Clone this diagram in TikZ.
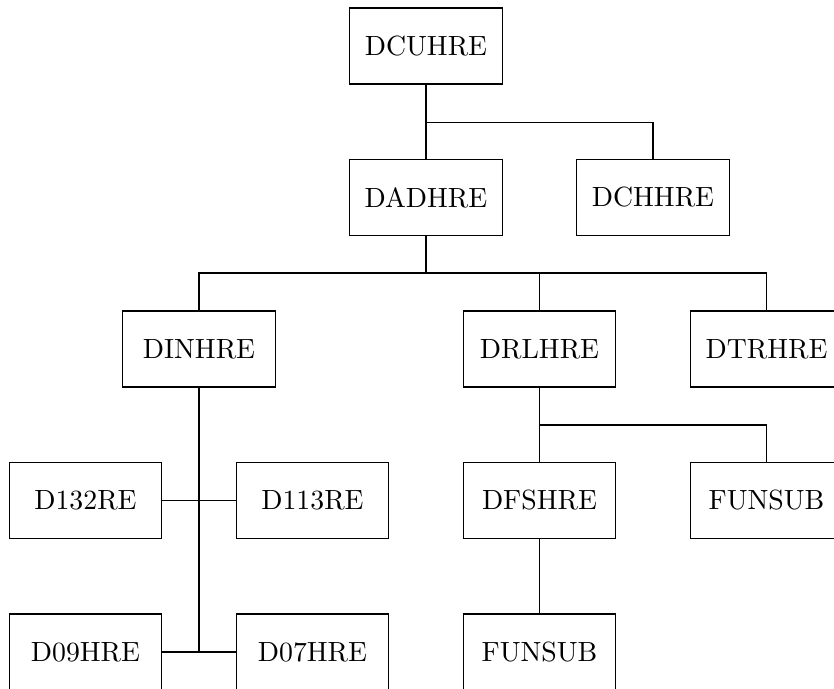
\documentclass[tikz,border=0pt]{standalone}
\begin{document}
\begin{tikzpicture}[x=0.36pt,y=-0.36pt,
  routine/.style={draw, minimum width=152.5*0.36pt, minimum height=76*0.36pt, inner sep=0pt, font=\normalsize}]
\useasboundingbox (0,0) rectangle (834,689);
% routine boxes, one row per call level
\node[routine] (cu)   at (426,46)    {DCUHRE};
\node[routine] (ad)   at (426,197.5) {DADHRE};
\node[routine] (ch)   at (653,197.5) {DCHHRE};
\node[routine] (in)   at (199,349)   {DINHRE};
\node[routine] (rl)   at (539.5,349) {DRLHRE};
\node[routine] (tr)   at (766.5,349) {DTRHRE};
\node[routine] (d132) at (85.5,500.5)  {D132RE};
\node[routine] (d113) at (312.5,500.5) {D113RE};
\node[routine] (fs)   at (539.5,500.5) {DFSHRE};
\node[routine] (fua)  at (766.5,500.5) {FUNSUB};
\node[routine] (d09)  at (85.5,652)  {D09HRE};
\node[routine] (d07)  at (312.5,652) {D07HRE};
\node[routine] (fub)  at (539.5,652) {FUNSUB};
% branching points
\coordinate (j1) at (426,122.5);
\coordinate (j2) at (426,273);
\coordinate (j3) at (539.5,425);
% call tree connectors
\draw (cu.south) -- (ad.north);
\draw (j1) -| (ch.north);
\draw (ad.south) -- (j2);
\draw (in.north) |- (tr.north |- j2) -- (tr.north);
\draw (rl.north) -- (rl.north |- j2);
\draw (rl.south) -- (fs.north);
\draw (j3) -| (fua.north);
\draw (fs.south) -- (fub.north);
\draw (in.south) -- (in.south |- d09.east);
\draw (d132.east) -- (d113.west);
\draw (d09.east) -- (d07.west);
\end{tikzpicture}
\end{document}
